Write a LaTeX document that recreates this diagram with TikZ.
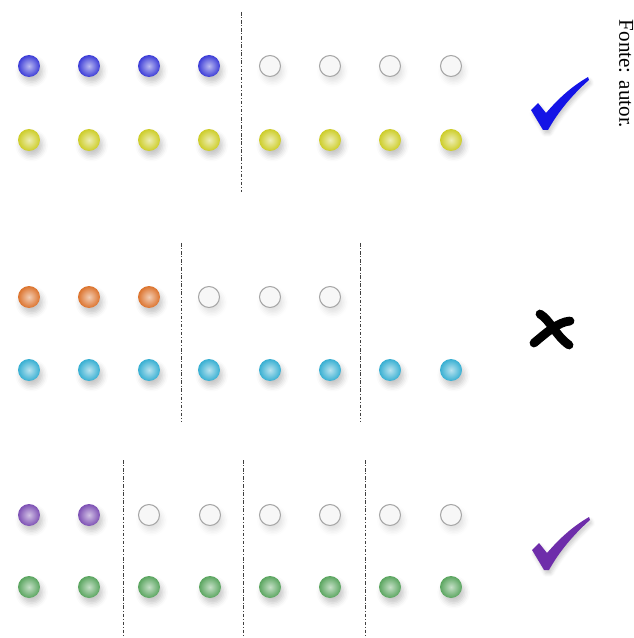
\documentclass[tikz,border=0pt]{standalone}
\usepackage{fontspec}
\setmainfont{Liberation Serif}
\usetikzlibrary{shadows.blur}

\definecolor{bblue}{RGB}{60,60,215}
\definecolor{yyellow}{RGB}{205,205,40}
\definecolor{oorange}{RGB}{220,115,45}
\definecolor{ccyan}{RGB}{55,175,210}
\definecolor{ppurple}{RGB}{125,80,180}
\definecolor{ggreen}{RGB}{90,165,95}
\definecolor{tickblue}{RGB}{20,20,230}
\definecolor{tickpurple}{RGB}{110,45,170}

\begin{document}
\begin{tikzpicture}[x=0.02cm, y=-0.02cm,
	ball/.style={ circle, inner sep=0pt, minimum size=0.44cm, inner color=#1!35!white, outer color=#1,
		blur shadow={shadow xshift=1.5pt, shadow yshift=-3pt, shadow opacity=22, shadow blur radius=3pt} },
	hole/.style={ circle, draw=black!35, fill=black!3, line width=0.6pt, inner sep=0pt, minimum size=0.42cm,
		blur shadow={shadow xshift=1.5pt, shadow yshift=-3pt, shadow opacity=12, shadow blur radius=3pt} },
	sep/.style={ black!75, line width=0.5pt, dash pattern=on 2pt off 1pt on 0.6pt off 1pt },
	checkmark/.pic={ \fill[#1, blur shadow={shadow xshift=1pt, shadow yshift=-2pt, shadow opacity=20, shadow blur radius=2pt}]
		(0,32) -- (7,25) -- (15,35) .. controls (28,20) and (40,9) .. (57,-1) -- (58,2)
		.. controls (41,17) and (27,34) .. (17,52) -- (12,52) -- cycle; }
]
\useasboundingbox (0,0) rectangle (634,638);

% first group
\foreach \x [count=\i] in {29,89,149,209} \node[ball=bblue] at (\x,66) (b\i) {};
\foreach \x [count=\i from 5] in {270,330,390,451} \node[hole] at (\x,66) (b\i) {};
\foreach \x [count=\i] in {29,89,149,209,270,330,390,451} \node[ball=yyellow] at (\x,140) (y\i) {};
\coordinate (s1t) at (241,12);
\coordinate (s1b) at (241,192);
\draw[sep] (s1t) -- (s1b);
\pic at (531,78) {checkmark=tickblue};

% second group
\foreach \x [count=\i] in {29,89,149} \node[ball=oorange] at (\x,297) (o\i) {};
\foreach \x [count=\i from 4] in {209,270,330} \node[hole] at (\x,297) (o\i) {};
\foreach \x [count=\i] in {29,89,149,209,270,330,390,451} \node[ball=ccyan] at (\x,370) (c\i) {};
\foreach \x [count=\i] in {181,360} {
	\coordinate (s2t\i) at (\x,243);
	\coordinate (s2b\i) at (\x,422);
	\draw[sep] (s2t\i) -- (s2b\i);
}
\coordinate (xa1) at (540,314);
\coordinate (xa2) at (569,345);
\coordinate (xb1) at (534,343);
\coordinate (xb2) at (570,321);
\draw[line width=5pt, line cap=round] (xa1) .. controls (550,320) and (556,336) .. (xa2);
\draw[line width=5pt, line cap=round] (xb1) .. controls (546,333) and (558,322) .. (xb2);

% third group
\foreach \x [count=\i] in {29,89} \node[ball=ppurple] at (\x,515) (p\i) {};
\foreach \x [count=\i from 3] in {149,210,270,330,390,451} \node[hole] at (\x,515) (p\i) {};
\foreach \x [count=\i] in {29,89,149,210,270,330,390,451} \node[ball=ggreen] at (\x,587) (g\i) {};
\foreach \x [count=\i] in {123,243,365} {
	\coordinate (s3t\i) at (\x,460);
	\coordinate (s3b\i) at (\x,638);
	\draw[sep] (s3t\i) -- (s3b\i);
}
\pic at (532,518) {checkmark=tickpurple};

\node[rotate=-90, inner sep=0pt, font=\fontsize{12}{14}\selectfont] at (626,74) (src) {Fonte: autor.};

\end{tikzpicture}
\end{document}
